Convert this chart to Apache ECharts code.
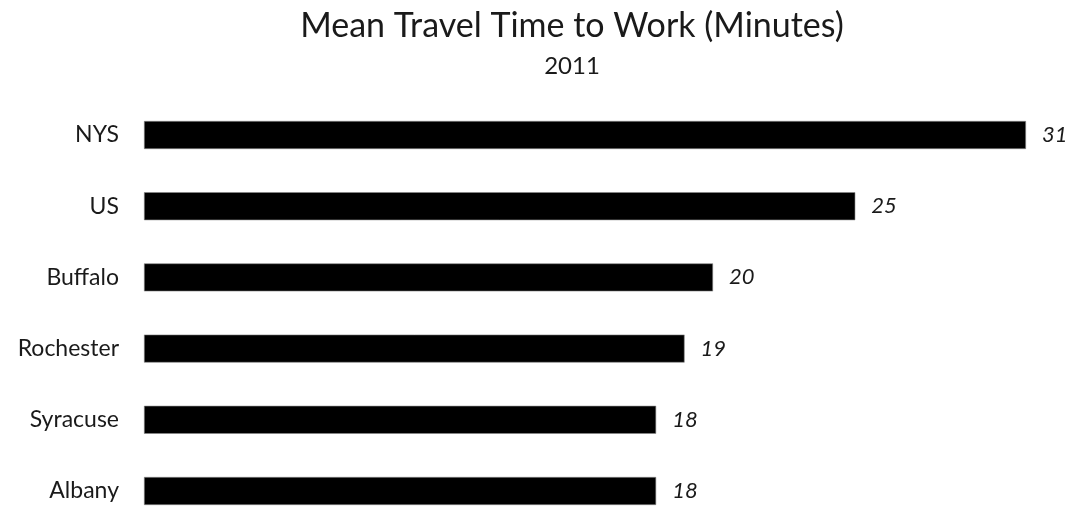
<!DOCTYPE html>
<html>
<head>
<meta charset="utf-8">
<script src="https://cdn.jsdelivr.net/npm/echarts@6/dist/echarts.min.js"></script>
<style>
html,body{margin:0;padding:0;background:#fff;overflow:hidden;}
#chart{width:1073px;height:540px;}
</style>
</head>
<body>
<div id="chart"></div>
<script>
var categories = ["NYS", "US", "Buffalo", "Rochester", "Syracuse", "Albany"];
var values = [31, 25, 20, 19, 18, 18];
var titleText = "Mean Travel Time to Work (Minutes)";
var subtitleText = "2011";

var chart = echarts.init(document.getElementById('chart'));
chart.setOption({
  animation: false,
  backgroundColor: '#ffffff',
  title: {
    text: titleText,
    subtext: subtitleText,
    left: 567,
    textAlign: 'center',
    top: 4,
    itemGap: 11,
    textStyle: {fontFamily: 'Lato', fontSize: 34, fontWeight: 'normal', color: '#1a1a1a'},
    subtextStyle: {fontFamily: 'Lato', fontSize: 24, color: '#1a1a1a'}
  },
  grid: {left: 144, top: 99.4, width: 882, height: 427.2, containLabel: false},
  xAxis: {
    type: 'value', min: 0, max: 31, show: false
  },
  yAxis: {
    type: 'category', data: categories, inverse: true,
    axisLine: {show: false}, axisTick: {show: false},
    axisLabel: {fontFamily: 'Lato', fontSize: 23, color: '#1a1a1a', margin: 25}
  },
  series: [{
    type: 'bar', data: values, barWidth: 28,
    itemStyle: {color: '#000000', borderColor: '#888', borderWidth: 0.6},
    label: {show: true, position: 'right', distance: 16, fontFamily: 'Lato', fontStyle: 'italic', fontSize: 22, color: '#1a1a1a'}
  }]
});
</script>
</body>
</html>
